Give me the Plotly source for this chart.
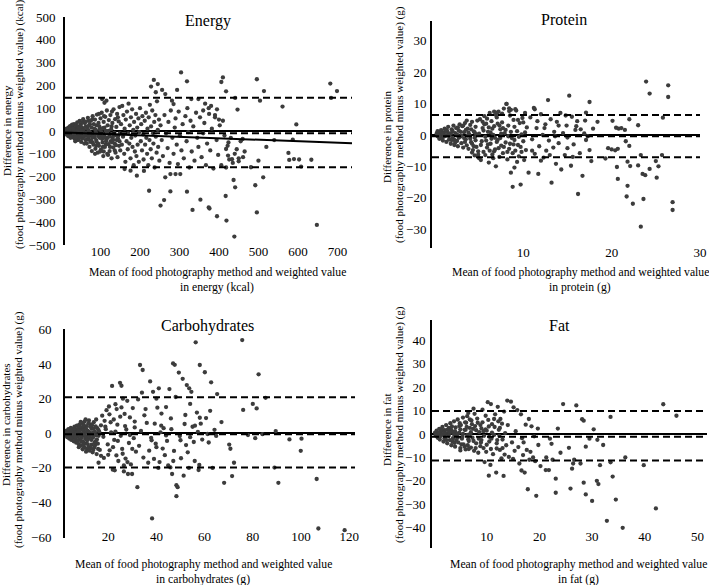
import plotly.graph_objects as go

W, H = 709, 585
FONT = "Liberation Serif"
DOT = "#3c3c3c"

# ---- data: (mean of methods, difference) ----
energy_pts = [
    (11, 4), (13, -6), (14, 10), (16, -12), (17, 2), (19, 15), (20, -20), (22, 8), (23, -3), (25, 22),
    (26, -14), (27, 5), (29, -28), (30, 18), (31, -8), (33, 30), (34, -2), (35, -35), (37, 12), (38, 25),
    (40, -18), (41, 38), (42, -40), (44, 6), (45, -25), (47, 44), (48, -10), (50, 30), (51, -48), (53, 16),
    (54, -32), (56, 52), (57, -15), (59, -55), (60, 35), (18, -22), (24, -30), (28, 28), (36, -45), (43, 20),
    (49, -5), (55, 40), (12, -2), (15, 0), (21, -8), (32, 2), (39, -12), (46, -2), (52, -20), (58, 8),
    (16, 5), (27, -16), (38, -22), (44, -38), (49, 18), (55, -28), (33, -20), (22, 20),
    (14, -15), (19, -5), (23, 12), (28, -12), (31, 10), (35, -8), (37, -28), (41, 5), (45, 14), (48, -30),
    (52, 2), (56, -8), (60, -22), (63, 20), (66, -38), (70, 2), (73, 30), (77, -20), (80, -50), (84, 10),
    (87, -8), (90, 25), (94, -55), (98, 8), (102, -25), (106, -70), (110, 15), (113, -60), (117, -30), (120, 0),
    (124, -70), (128, 20), (132, -40), (136, -85), (140, -20), (144, 60), (148, -45), (69, 45), (79, 50), (89, -65),
    (99, -90), (109, 65), (119, -105), (129, 85), (62, -40), (74, -48), (86, -100), (96, 75), (108, -90),
    (62, 40), (64, -20), (65, -55), (67, 10), (68, 58), (70, -35), (71, 25), (72, -70), (73, -5), (75, 45),
    (76, -42), (77, 15), (78, -88), (80, 65), (81, -15), (82, -60), (83, 30), (85, -28), (86, 50), (87, -78),
    (88, 5), (90, -48), (91, 72), (92, -10), (93, -95), (95, 35), (96, -65), (97, 20), (98, -30), (100, 55),
    (101, -82), (102, -5), (103, 80), (105, -50), (106, 12), (107, -110), (108, 40), (110, -22), (111, -70), (112, 62),
    (113, 0), (115, -38), (116, 90), (117, -100), (118, 25), (120, -58), (121, 48), (122, -15), (123, -88), (125, 70),
    (126, -45), (127, 8), (128, -120), (130, 35), (131, -30), (132, -72), (133, 95), (135, -8), (136, -55), (137, 52),
    (138, -95), (140, 18), (141, -40), (142, 75), (143, -115), (145, -20), (146, 42), (147, -65), (148, 105), (150, -85),
    (63, -8), (66, -15), (69, -25), (74, -12), (79, -30), (84, -18), (89, -40), (94, -22), (99, -12), (104, -35),
    (109, -28), (114, -45), (119, -5), (124, -25), (129, -50), (134, -18), (139, -62), (144, -32), (149, -10),
    (104, 140), (110, 124), (115, 133),
    (152, 30), (154, -60), (155, 110), (157, -25), (158, 70), (160, -100), (161, 10), (163, -135), (164, 50), (166, -45),
    (167, 85), (169, -80), (170, -10), (171, 120), (173, -55), (174, 25), (176, -120), (177, 60), (178, -30), (180, 95),
    (181, -70), (183, 5), (184, -150), (185, 40), (187, -90), (188, -20), (190, 75), (191, -110), (193, 15), (194, -60),
    (196, 55), (197, -135), (198, -5), (200, 100), (202, -45), (203, 30), (205, -85), (206, 65), (208, -15), (209, -125),
    (210, -175), (212, 45), (213, -60), (215, 80), (216, -30), (218, -100), (219, 10), (221, -150), (222, 60), (224, -40),
    (225, 115), (227, -80), (228, 20), (230, -120), (231, 90), (233, -10), (234, -55), (236, 40), (237, -160), (239, 70),
    (240, -25), (242, -95), (243, 130), (245, 5), (246, -70), (248, 50), (249, -130),
    (235, 224), (245, 206), (256, 180), (264, 162), (228, 195), (240, 170),
    (192, -196), (176, -174), (161, -167), (223, -262),
    (252, -327), (261, -303), (277, -265), (319, -266), (353, -301), (333, -346), (374, -335), (376, -340), (395, -374),
    (419, -393), (439, -463), (417, -285), (437, -215), (441, -247), (264, -203), (277, -189), (290, -189), (302, -189),
    (304, 257), (319, 218), (294, 180), (281, 133), (285, 118), (410, 235), (406, 215), (418, 174), (441, 145), (447, 94),
    (330, 140), (348, 140), (365, 120), (320, 100), (360, 90), (375, 75), (390, 60), (400, 50), (380, 110), (395, 95),
    (252, 25), (255, -40), (258, -110), (262, 70), (266, -10), (270, -75), (272, 40), (275, -140), (278, 90), (282, -30),
    (285, -100), (288, 15), (290, 55), (293, -60), (296, -145), (298, 85), (301, -20), (305, -85), (308, 30), (311, -120),
    (315, 65), (318, -45), (322, -5), (325, -160), (328, 45), (331, -90), (335, 20), (338, -130), (342, 80), (345, -30),
    (348, -70), (352, 60), (356, -115), (360, -10), (363, 35), (367, -150), (370, -55), (374, 100), (378, -85), (382, 10),
    (386, -165), (390, 70), (394, -40), (398, -105), (402, 25), (406, -150), (410, 45), (414, -20), (418, -160), (422, -65),
    (426, -125), (430, -30), (435, -140), (440, -100), (445, -80), (450, -120), (455, -45), (460, -35), (465, -90),
    (461, -115), (450, -133), (433, -124), (423, -108), (418, -79), (424, -50),
    (496, 227), (514, 175), (504, 133), (492, -238), (512, -203), (496, -357), (500, -130), (481, -159), (561, 107),
    (596, 29), (587, -38), (576, -96), (578, -127), (590, -123), (603, -125), (608, -156), (634, -126), (648, -412),
    (682, 208), (699, 175), (684, 145), (540, -40), (520, -70),
]

protein_pts = [
    (0.2, 0.5), (0.3, -0.4), (0.4, 1.0), (0.5, -1.2), (0.6, 0.2), (0.7, 1.5), (0.8, -0.8), (0.9, -1.8), (1.0, 0.8),
    (1.1, 2.0), (1.2, -0.3), (1.3, -2.2), (1.4, 1.2), (1.5, 2.6), (1.6, -1.5), (1.7, 0.3), (1.8, -2.8), (1.9, 1.8),
    (2.0, -0.9), (2.1, 3.0), (2.2, -3.2), (2.3, 0.6), (2.4, 2.2), (2.5, -1.9), (2.6, -3.6), (2.7, 1.4), (2.8, 3.4),
    (2.9, -0.5), (3.0, -2.6), (3.1, 2.8), (3.2, -4.0), (3.3, 0.9), (3.4, 3.8), (3.5, -1.4), (3.6, -3.3), (3.7, 2.0),
    (3.8, -4.4), (3.9, 0.1), (4.0, 3.2), (4.1, -2.3), (4.2, 4.2), (4.3, -4.8), (4.4, 1.1), (4.5, -0.8), (4.6, 2.6),
    (4.7, -3.8), (4.8, 4.6), (4.9, -5.2), (5.0, 0.4),
    (0.5, 0.1), (1.0, -0.6), (1.5, 0.4), (2.0, 1.2), (2.5, 0.2), (3.0, -0.2), (3.5, 1.6), (4.0, -1.2), (4.5, 0.8),
    (1.2, 1.0), (2.2, -1.6), (3.3, -1.0), (4.2, -2.8), (2.7, -0.9), (3.8, 0.7), (1.8, 0.5), (0.8, 0.6), (4.6, -1.7),
    (4.2, -5.6), (4.9, -6.3), (3.6, 4.6), (4.5, -6.5), (5.0, -7.4),
    (0.3, 1.2), (0.6, -1.0), (0.9, 0.4), (1.3, 1.6), (1.6, -0.4), (1.9, -1.6), (2.3, -2.4), (2.6, 2.4), (2.9, 1.0),
    (3.2, 3.0), (3.4, -2.2), (3.7, -0.2), (4.1, 1.8), (4.4, -3.6), (4.7, 0.2), (5.2, -3.2), (5.4, 4.2), (5.7, -6.4),
    (6.1, 2.4), (6.4, -1.2), (6.7, -5.2), (7.1, 3.6), (7.4, -1.0), (7.7, 2.2), (8.2, -5.4), (8.6, 1.0), (9.0, -1.6),
    (9.4, 4.8), (9.7, -3.8), (10.2, 0.8), (5.9, 5.2), (6.2, -5.0), (7.2, -4.2), (8.9, -3.0),
    (5.1, 5.0), (5.2, -8.0), (5.3, -2.0), (5.4, 2.2), (5.5, -5.4), (5.6, 6.0), (5.7, -0.6), (5.8, 3.6), (5.9, -4.0),
    (6.0, 1.0), (6.1, -8.8), (6.2, 7.0), (6.3, -2.8), (6.4, 4.4), (6.5, -6.2), (6.6, 0.0), (6.7, 2.8), (6.8, -4.6),
    (6.9, -10.0), (7.0, 5.6), (7.1, -1.6), (7.2, 7.4), (7.3, -7.0), (7.4, 1.8), (7.5, -3.4), (7.6, 4.0), (7.7, -5.8),
    (7.8, 8.4), (7.9, 0.6), (8.0, -2.4), (8.1, 9.9), (8.2, -7.8), (8.3, 3.0), (8.4, -4.4), (8.5, 6.2), (8.6, -12.0),
    (8.7, -1.0), (8.8, -16.5), (8.9, 4.8), (9.0, -10.4), (9.1, -5.0), (9.2, 7.8), (9.3, 1.2), (9.4, -3.2), (9.5, -6.8),
    (9.6, 3.8), (9.7, -15.8), (9.8, 0.2), (9.9, 5.4), (10.0, -2.0), (10.1, -8.0), (10.2, 7.0), (10.3, -4.8), (10.4, 2.4),
    (5.5, 1.4), (6.0, -3.0), (6.5, 2.0), (7.0, -2.2), (7.5, 0.4), (8.0, 1.6), (8.5, -2.8), (9.0, 2.6), (9.5, -0.6),
    (10.0, 4.0), (5.8, -1.8), (6.3, 0.8), (6.8, -0.9), (7.3, 3.0), (7.8, -3.8), (8.3, -0.4), (8.8, -5.8), (9.3, -8.6),
    (9.8, -5.4), (6.9, 6.4), (7.6, 6.8), (8.4, 7.6), (5.6, 3.4), (6.6, -7.4),
    (8.1, 9.9), (8.4, 8.5), (8.6, 8.0), (11.3, 8.2), (6.7, 7.4), (7.0, 7.1), (9.1, 8.2),
    (10.6, -12.0), (10.8, 5.6), (11.0, -1.4), (11.2, 8.6), (11.3, -6.0), (11.5, 2.2), (11.7, -12.4), (11.8, -3.6),
    (12.0, 6.6), (12.2, 0.0), (12.3, -7.2), (12.5, 3.4), (12.6, -5.0), (12.8, 11.1), (12.9, -1.8), (13.1, 5.0),
    (13.2, -15.2), (13.4, -4.0), (13.5, 1.0), (13.7, -9.2), (13.8, 4.2), (14.0, -2.6), (14.2, 7.0), (14.3, -11.0),
    (14.5, 0.6), (14.7, -6.4), (14.9, 3.0), (15.0, -0.8), (15.2, 12.5), (15.4, -9.8), (15.5, 5.8), (15.7, -3.0),
    (15.9, 1.6), (16.1, 4.4), (16.2, -18.8), (16.4, -5.8), (16.5, 1.8), (16.7, -13.0), (16.9, 0.5), (17.0, 4.6),
    (17.1, 7.1), (17.1, -1.6), (17.3, -0.4), (17.5, 10.5), (17.5, -4.8), (17.7, -8.3), (17.9, 2.0), (11.0, -5.0),
    (12.0, -8.2), (13.0, -6.4), (14.0, 3.0), (15.0, -4.2), (16.0, 2.8), (12.4, 2.2), (13.6, -0.4), (14.8, 6.2),
    (11.6, 4.4), (15.6, -7.0),
    (18.4, 4.2), (19.3, -7.5), (19.6, -4.2), (20.0, -4.6), (20.4, -4.9), (20.7, -4.4), (20.1, 4.5), (20.5, 2.3),
    (20.8, 2.0), (21.1, 2.2), (20.6, -10.2), (20.7, -14.0), (21.5, 1.6), (21.6, -2.0), (21.7, -19.6), (21.8, -16.2),
    (21.8, -8.5), (22.0, 5.0), (22.0, -3.5), (22.1, -9.9), (22.4, -21.9), (23.0, 3.1), (23.0, -9.7), (23.3, -6.4),
    (23.3, -29.2), (23.5, -12.4), (23.6, -20.4), (23.9, 17.0), (24.3, 13.2), (24.3, -10.8), (25.0, -8.3),
    (25.1, -13.6), (25.3, -10.0), (25.7, -6.4), (25.8, 5.5), (26.4, 15.8), (26.4, 12.1), (26.9, -21.4),
    (26.9, -23.9), (23.8, -12.8),
]

carbs_pts = [
    (2.2, 0.5), (2.5, -1.0), (2.8, 1.6), (3.0, -2.2), (3.3, 0.0), (3.5, 2.4), (3.8, -3.0), (4.0, 1.0), (4.2, -1.6),
    (4.5, 3.2), (4.7, -3.8), (5.0, 0.4), (5.2, 2.0), (5.5, -2.6), (5.7, -4.6), (6.0, 3.8), (6.2, -0.8), (6.5, 1.8),
    (6.7, -5.4), (7.0, 4.4), (7.2, -2.0), (7.5, 0.6), (7.7, -6.2), (8.0, 5.0), (8.2, -3.4), (8.5, 2.6), (8.7, -7.0),
    (9.0, 6.0), (9.2, -1.2), (9.5, -4.6), (9.7, 3.4), (10.0, -8.0), (10.2, 6.8), (10.5, 0.2), (10.7, -5.8),
    (11.0, 4.2), (11.2, -9.0), (11.5, 1.4), (11.7, -3.0), (12.0, 7.4), (12.2, -10.0), (12.5, -0.6), (12.7, 5.2),
    (13.0, -6.6), (13.2, 2.6), (13.5, -11.0), (13.7, -2.4), (14.0, 6.4), (14.2, -8.2), (14.5, 0.8), (14.7, -4.6),
    (15.0, 8.0), (15.2, -12.0), (15.5, 3.0), (15.7, -6.0), (16.0, -1.4), (16.5, -9.6), (17.0, 4.6),
    (3.0, 1.2), (4.0, -0.8), (5.0, -1.6), (6.0, 0.6), (7.0, -0.4), (8.0, 0.4), (9.0, -2.6), (10.0, 2.2), (11.0, -1.8),
    (12.0, 1.0), (13.0, -3.8), (14.0, 2.6), (15.0, -1.2), (6.5, -3.6), (7.5, 3.0), (8.5, -1.4), (9.5, 1.6),
    (10.5, -3.2), (11.5, -6.2), (12.5, 3.8), (13.5, 0.2), (14.5, -7.0), (16.0, 1.8), (3.5, -1.4), (4.5, 0.8),
    (5.5, 1.2), (9.8, -6.4), (11.8, -7.8), (13.8, -9.6),
    (2.4, -0.4), (3.2, 0.8), (3.7, 1.8), (4.3, -2.6), (4.8, 2.2), (5.3, -0.8), (5.8, 2.6), (6.3, -2.0), (6.8, 0.2),
    (7.3, -4.4), (7.8, 1.4), (8.3, 4.0), (8.8, -4.8), (9.3, 0.0), (9.8, 4.8), (10.3, -1.6), (10.8, 2.6), (11.3, -4.0),
    (11.8, 5.8), (12.3, -1.8), (12.8, -8.6), (13.3, 4.6), (13.8, -0.8), (14.3, -5.4), (14.8, 4.0), (15.3, -3.6),
    (15.8, -9.0), (16.3, 0.8), (7.8, -8.0), (9.4, -9.2), (10.8, -10.6), (8.6, 6.6), (10.6, 8.0),
    (16.0, -17.0), (17.5, 10.2), (18.2, -14.2), (18.8, 3.8), (19.3, 13.4), (19.8, -6.4), (20.3, 15.5), (20.6, -9.8),
    (21.2, 0.6), (21.6, 27.4), (21.9, -21.0), (22.3, 8.0), (22.5, -3.8), (22.7, -21.4), (23.0, 16.8), (23.4, -12.8),
    (23.8, 5.0), (24.2, -16.0), (24.9, 29.2), (25.2, -1.4), (25.5, 27.5), (25.8, -9.0), (26.1, 20.0), (26.5, -22.0),
    (26.8, 11.2), (27.2, -14.6), (27.5, 2.2), (27.9, 18.8), (28.2, -23.5), (28.6, -5.6), (29.0, 9.2), (29.4, -18.0),
    (29.9, -23.5), (30.2, 14.6), (30.6, -2.8), (31.0, 6.8), (31.5, -10.6), (32.1, -31.1), (32.4, 19.6), (32.8, -7.2),
    (33.2, 39.5), (33.6, 1.4), (34.0, 23.5), (34.3, 36.6), (34.6, -14.0), (35.0, 10.4),
    (18.0, -2.0), (19.0, 2.4), (20.0, -12.4), (21.0, 6.4), (22.0, -8.0), (23.0, 1.0), (24.0, -4.4), (25.0, 9.6),
    (26.0, -11.8), (27.0, 4.2), (28.0, -16.6), (29.0, -1.0), (30.0, -9.0), (31.0, 3.4), (17.0, -13.0), (18.5, 7.2),
    (20.5, 11.0), (23.5, 14.0), (26.5, -18.6), (25.5, 15.0),
    (36.6, -17.0), (37.0, -10.0), (37.4, 30.0), (37.8, -2.6), (38.2, -49.2), (38.6, 24.0), (39.0, -14.8), (39.3, 5.6),
    (39.7, -6.0), (40.0, 20.0), (40.4, 14.8), (40.8, -20.0), (41.3, -16.6), (41.7, 0.6), (42.1, 11.4), (42.6, -8.8),
    (43.0, 3.0), (43.5, -12.6), (44.0, 15.2), (44.4, -4.4), (44.9, -18.6), (45.4, 25.6), (45.8, -19.7), (46.2, 2.4),
    (46.5, -23.5), (46.9, 40.4), (47.3, -10.2), (47.6, 39.6), (48.0, 21.0), (48.3, -30.0), (48.3, -36.3),
    (48.8, -31.1), (49.3, 35.1), (49.7, -1.6), (50.2, -14.4), (50.9, 31.5), (51.3, -24.5), (51.7, 5.4), (52.3, -6.8),
    (52.6, 27.9), (53.0, -11.0), (53.6, 26.0), (54.0, 17.0), (54.5, 24.0), (55.0, 3.8), (55.5, -5.0), (55.9, -16.0),
    (56.3, 52.6), (56.8, 12.0), (57.2, 0.8), (57.8, -18.3), (57.5, -21.2), (58.0, 39.5), (58.4, 5.6), (59.0, -3.6),
    (60.1, 35.3), (60.6, 8.8), (61.2, -0.4), (61.7, -5.3), (62.3, 13.0), (62.7, 29.5), (63.3, -20.0), (64.1, 2.0),
    (64.8, -1.5), (65.2, 22.7),
    (36.0, 6.0), (38.0, -4.0), (40.0, -8.0), (42.0, 4.4), (44.0, -1.2), (46.0, 8.6), (50.0, -4.0), (52.0, 10.6),
    (54.0, -2.2), (56.0, 4.4), (58.0, 9.0), (35.5, 14.0), (41.0, 26.0), (47.0, -16.0), (53.5, -20.0),
    (67.0, 6.5), (68.1, -28.6), (70.2, -6.5), (70.7, -8.9), (71.4, -24.7), (72.2, -17.0), (75.6, 53.9), (76.0, 13.5),
    (80.0, 17.0), (81.0, -2.8), (81.6, 14.4), (82.4, 34.1), (85.3, 20.5), (89.5, 1.3), (90.6, -28.6), (89.0, -19.8),
    (95.2, -3.5), (100.2, -3.1), (99.9, -10.1), (106.5, -26.4), (107.2, -55.0), (118.1, -56.0), (78.0, -1.0),
    (84.0, -0.5),
]

fat_pts = [
    (0.2, 0.6), (0.4, -0.8), (0.5, 1.4), (0.7, -1.6), (0.8, 0.2), (1.0, 2.2), (1.1, -2.4), (1.3, 0.9), (1.5, -0.4),
    (1.6, 3.0), (1.8, -3.2), (2.0, 1.6), (2.1, -1.2), (2.3, 3.8), (2.5, -4.0), (2.6, 0.0), (2.8, 2.6), (3.0, -2.6),
    (3.1, 4.6), (3.3, -4.8), (3.5, 1.0), (3.6, -1.8), (3.8, 5.4), (4.0, -5.4), (4.1, 2.8), (4.3, -0.8), (4.5, 6.2),
    (4.6, -3.6), (4.8, 0.6), (5.0, -6.0), (5.1, 3.8), (5.3, -2.0), (5.5, 7.0), (5.6, -4.4), (5.8, 1.8), (6.0, -6.6),
    (6.1, 4.8), (6.3, -0.4), (6.5, 9.0), (6.6, -3.0), (6.8, 2.6), (7.0, -5.8), (7.1, 5.8), (7.3, -1.6), (7.5, 10.8),
    (7.6, -7.2), (7.8, 3.4), (8.0, -4.0),
    (0.5, -0.2), (1.0, 0.6), (1.5, 1.4), (2.0, -1.8), (2.5, 1.8), (3.0, 0.4), (3.5, -3.2), (4.0, 1.2), (4.5, -1.6),
    (5.0, 2.0), (5.5, 0.0), (6.0, 1.8), (6.5, -2.2), (7.0, 0.8), (7.5, -3.0), (8.0, 1.6), (2.2, 0.4), (3.2, 2.0),
    (4.2, -2.6), (5.2, -4.4), (6.2, 3.0), (7.2, 4.2), (4.8, 3.4), (5.8, -5.4), (6.8, 6.2), (3.8, -0.2), (1.2, -1.0),
    (2.8, -0.8),
    (0.3, -0.4), (0.9, -1.2), (1.4, 2.0), (1.9, 0.2), (2.4, -2.6), (2.9, 1.0), (3.4, 3.2), (3.9, -3.8), (4.4, 0.0),
    (4.9, 4.6), (5.4, -1.2), (5.9, 5.0), (6.4, -4.8), (6.9, 0.0), (7.4, 2.2), (7.9, -6.0), (8.3, 4.8), (8.9, -3.6),
    (9.4, 1.2), (9.9, -7.6), (10.4, 3.2), (10.9, -2.0), (11.4, 6.4), (11.9, -6.2), (12.4, -0.8), (12.9, 4.4),
    (13.4, -8.8), (6.3, 7.6), (7.7, 8.6), (9.8, 7.8), (5.0, -7.0), (6.6, -6.4),
    (8.2, 6.6), (8.4, -8.0), (8.6, 0.8), (8.8, 3.8), (9.0, -2.6), (9.2, 10.4), (9.4, -6.0), (9.6, -12.0), (9.8, 2.0),
    (10.0, -4.6), (10.2, 13.6), (10.3, 6.0), (10.4, -17.8), (10.5, -1.2), (10.7, -13.2), (10.8, 12.8), (11.0, 4.2),
    (11.2, -8.6), (11.4, -0.4), (11.6, 8.4), (11.8, -16.5), (11.9, -4.0), (12.1, 11.6), (12.3, 1.8), (12.5, -6.8),
    (12.6, 6.4), (12.8, -10.4), (13.0, -2.4), (13.2, -17.9), (13.3, 9.6), (13.5, 0.4), (13.7, -4.8), (13.9, 14.3),
    (14.0, 3.8),
    (8.5, -2.0), (9.0, 2.4), (9.5, -0.8), (10.0, 1.4), (10.5, -3.2), (11.0, 0.6), (11.5, 3.0), (12.0, -2.6),
    (12.5, 2.6), (13.0, -6.0), (9.2, 5.0), (10.8, -6.4), (12.2, 5.4), (8.8, -5.2),
    (14.2, -9.8), (14.6, 13.8), (14.8, -3.6), (15.1, 11.4), (15.3, -7.2), (15.5, 1.2), (15.8, 10.2), (16.0, -5.6),
    (16.2, -12.6), (16.5, 8.4), (16.7, -1.8), (16.9, -9.0), (17.2, -16.5), (17.4, 4.0), (17.6, -6.8), (17.8, -23.6),
    (18.0, 6.4), (18.1, -11.0), (18.3, -7.6), (18.5, 3.3), (18.8, -10.0), (19.0, -1.0), (19.4, -26.4), (19.7, 2.3),
    (19.8, -4.7), (20.2, -13.7), (16.6, -15.6), (15.0, -10.6), (17.0, -3.6), (19.2, -11.6),
    (21.3, -10.0), (21.8, -15.4), (21.2, -15.4), (22.0, -2.0), (22.3, -4.2), (23.1, -25.1), (23.1, -19.1),
    (23.5, 2.3), (24.5, 12.8), (25.6, -5.9), (25.9, -23.3), (26.4, -12.6), (26.2, -14.8), (27.0, 12.2),
    (26.6, -11.0), (27.8, -12.6), (28.1, 6.3), (28.4, 5.7), (28.4, -20.8), (28.8, -25.8), (28.8, -5.4),
    (29.5, -2.0), (30.0, -28.6), (30.3, 2.0), (30.9, -20.0), (31.2, -21.4), (31.5, -13.3), (32.1, -4.7),
    (32.8, -37.1), (33.5, 7.3), (33.5, -12.1), (33.9, -18.2), (34.5, -28.0), (35.8, -40.1), (36.3, -10.0),
    (39.8, -13.3), (42.1, -31.8), (43.5, 12.7), (46.0, 7.8), (22.5, -11.0), (24.0, -8.0), (31.0, -2.5),
]

# bias and limits of agreement (mean, upper, lower)
energy_loa = (-10, 146, -159)
protein_loa = (-0.4, 6.4, -7.1)
carbs_loa = (-0.6, 20.8, -19.7)
fat_loa = (-1.2, 9.8, -11.3)
# proportional bias line in the energy panel
energy_reg = (-6, -0.065)


def px(x):
    return x / W


def py(y):
    return 1 - y / H


panels = [
    dict(name="Energy", pts=energy_pts, loa=energy_loa, xr=[10, 737], yr=[-500, 500],
         xt=[100, 200, 300, 400, 500, 600, 700], yt=list(range(-500, 501, 100)),
         box=(65, 352, 17, 245), xlab=242, ygap=5, title=(208, 21),
         t1="Difference in energy", t1pos=(7, 131),
         t2="(food photography method minus weighted value) (kcal)", t2pos=(19, 124),
         b2="in energy (kcal)", bpos=(217, 272)),
    dict(name="Protein", pts=protein_pts, loa=protein_loa, xr=[-0.33, 30], yr=[-36, 36.3],
         xt=[10, 20, 30], yt=[-30, -20, -10, 0, 10, 20, 30],
         box=(432, 700, 21, 248), xlab=243, ygap=1, title=(564, 20),
         t1="Difference in protein", t1pos=(387, 137),
         t2="(food photography method minus weighted value) (g)", t2pos=(399, 125),
         b2="in protein (g)", bpos=(580, 272)),
    dict(name="Carbohydrates", pts=carbs_pts, loa=carbs_loa, xr=[2.07, 122.4], yr=[-60.5, 60.3],
         xt=[20, 40, 60, 80, 100, 120], yt=[-60, -40, -20, 0, 20, 40, 60],
         box=(65, 355, 329, 538), xlab=527, ygap=9, title=(207, 326),
         t1="Difference in carbohydrates", t1pos=(6, 425),
         t2="(food photography method minus weighted value) (g)", t2pos=(18, 430),
         b2="in carbohydrates (g)", bpos=(203, 564)),
    dict(name="Fat", pts=fat_pts, loa=fat_loa, xr=[-0.38, 51.8], yr=[-48.7, 48.7],
         xt=[10, 20, 30, 40, 50], yt=[-40, -30, -20, -10, 0, 10, 20, 30, 40],
         box=(432, 707, 320, 548), xlab=527, ygap=2, title=(559, 325),
         t1="Difference in fat", t1pos=(387, 430),
         t2="(food photography method minus weighted value) (g)", t2pos=(399, 425),
         b2="in fat (g)", bpos=(578, 564)),
]

fig = go.Figure()
shapes = []
annotations = []
layout = {}


def note(text, x, y, size, angle=0):
    annotations.append(dict(text=text, x=px(x), y=py(y), xref="paper", yref="paper",
                            xanchor="center", yanchor="middle", textangle=angle,
                            showarrow=False, font=dict(family=FONT, size=size, color="black")))


for i, p in enumerate(panels):
    n = "" if i == 0 else str(i + 1)
    xa, ya = "x" + n, "y" + n
    l, r, t, b = p["box"]
    xs = [q[0] for q in p["pts"]]
    ys = [q[1] for q in p["pts"]]
    fig.add_trace(go.Scatter(x=xs, y=ys, mode="markers", xaxis=xa, yaxis=ya,
                             marker=dict(size=4.3, color=DOT), showlegend=False))

    layout["xaxis" + n] = dict(domain=[px(l), px(r)], range=p["xr"], anchor="free",
                               position=py(p["xlab"]), showline=False, showgrid=False,
                               zeroline=False, ticks="", tickvals=p["xt"],
                               tickfont=dict(family=FONT, size=13, color="black"))
    layout["yaxis" + n] = dict(domain=[py(b), py(t)], range=p["yr"], anchor=xa,
                               showline=True, linecolor="black", linewidth=2,
                               showgrid=False, zeroline=True, zerolinecolor="black",
                               zerolinewidth=2, ticks="", tickvals=p["yt"],
                               ticklabelstandoff=p["ygap"],
                               tickfont=dict(family=FONT, size=13, color="black"))

    mean, up, lo = p["loa"]
    for v in (up, mean, lo):
        shapes.append(dict(type="line", xref=xa + " domain", yref=ya, x0=0, x1=1, y0=v, y1=v,
                           line=dict(color="black", width=2, dash="7px,4px")))

    note(p["name"], *p["title"], 16)
    note(p["t1"], *p["t1pos"], 11, -90)
    note(p["t2"], *p["t2pos"], 11, -90)
    bx, by = p["bpos"]
    note("Mean of food photography method and weighted value", bx, by, 11.7)
    note(p["b2"], bx, by + 15, 11.7)

# proportional bias line (energy)
b0, b1 = energy_reg
ex = panels[0]["xr"]
fig.add_trace(go.Scatter(x=ex, y=[b0 + b1 * v for v in ex], mode="lines", xaxis="x", yaxis="y",
                         line=dict(color="black", width=2), showlegend=False))

fig.update_layout(width=W, height=H, margin=dict(l=0, r=0, t=0, b=0, autoexpand=False),
                  paper_bgcolor="white", plot_bgcolor="white",
                  shapes=shapes, annotations=annotations, **layout)

# the page's default body margin would shift the figure by 8px
fig.write_html("out.html", config={"displayModeBar": False},
               post_script="document.body.style.margin='0';")
